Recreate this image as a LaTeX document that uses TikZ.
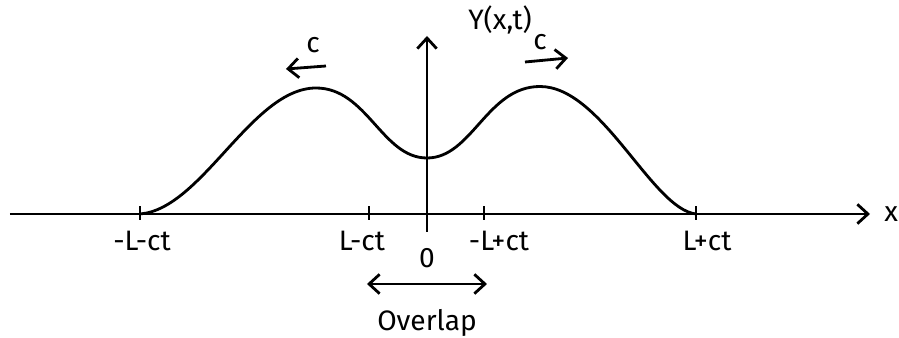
\documentclass[tikz,border=0pt]{standalone}
\usepackage{fontspec}
\setmainfont{Fira Sans}
\usetikzlibrary{arrows.meta}
\definecolor{ink}{HTML}{000000}

\begin{document}
\begin{tikzpicture}[line width=1.6pt,ink,
    lbl/.style={font=\fontsize{16}{18}\selectfont},
    tip/.style={-{Straight Barb[length=6pt,width=11pt,line width=1.6pt]}}]
        \useasboundingbox (-8.54,-2.48) rectangle (9.44,4.28);
        \coordinate (xstart) at (-8.34,0);
        \coordinate (xend) at (8.86,0);
        \coordinate (ystart) at (0,-0.36);
        \coordinate (yend) at (0,3.56);
        \draw[tip] (xstart) -- (xend) node[lbl,right=4pt] (xlbl) {x};
        \draw[tip] (ystart) -- (yend);
        \node[lbl] (ylbl) at (1.46,3.88) {Y(x,t)};
        \draw (-5.74,-0.12) -- (-5.74,0.16);
        \draw (-1.16,-0.12) -- (-1.16,0.16);
        \draw (1.14,-0.12) -- (1.14,0.16);
        \draw (5.38,-0.12) -- (5.38,0.16);
        \draw (-5.74,0) .. controls (-4.5,0.1) and (-3.5,2.52) .. (-2.22,2.52)
              .. controls (-1.2,2.52) and (-0.9,1.12) .. (0,1.12)
              .. controls (0.9,1.12) and (1.2,2.55) .. (2.26,2.55)
              .. controls (3.5,2.55) and (4.5,0.1) .. (5.38,0);
        \node[lbl] (t1) at (-5.7,-0.54) {-L-ct};
        \node[lbl] (t2) at (-1.3,-0.54) {L-ct};
        \node[lbl] (t0) at (0,-0.88) {0};
        \node[lbl] (t3) at (1.44,-0.54) {-L+ct};
        \node[lbl] (t4) at (5.6,-0.54) {L+ct};
        \coordinate (cla) at (-2.02,2.96);
        \coordinate (clb) at (-2.82,2.9);
        \coordinate (cra) at (1.96,3.04);
        \coordinate (crb) at (2.82,3.12);
        \draw[tip] (cla) -- (clb);
        \draw[tip] (cra) -- (crb);
        \node[lbl] (cl) at (-2.28,3.38) {c};
        \node[lbl] (cr) at (2.26,3.44) {c};
        \coordinate (ova) at (-1.2,-1.4);
        \coordinate (ovb) at (1.2,-1.4);
        \draw[{Straight Barb[length=6pt,width=11pt,line width=1.6pt]}-{Straight Barb[length=6pt,width=11pt,line width=1.6pt]}] (ova) -- (ovb);
        \node[lbl] (ovlbl) at (0,-2.18) {Overlap};
      \end{tikzpicture}
\end{document}
